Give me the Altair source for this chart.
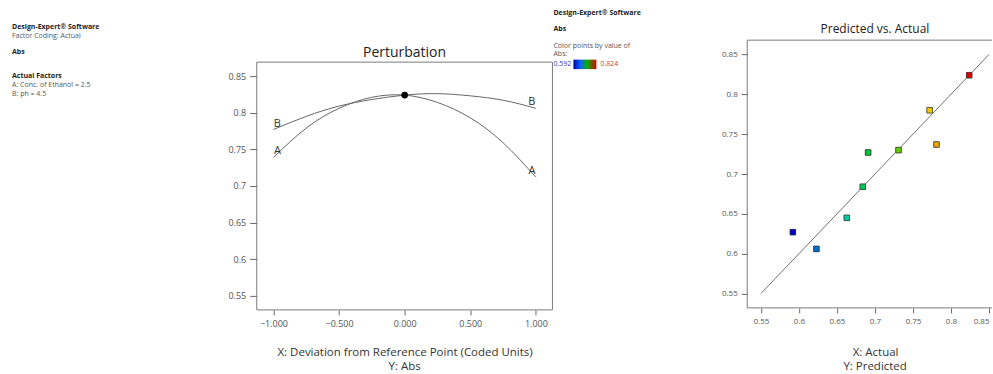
import altair as alt
import pandas as pd

# ---------------- data ----------------
coded = [-1.0, -0.75, -0.5, -0.25, 0.0, 0.25, 0.5, 0.75, 1.0]
abs_A = [0.739, 0.779, 0.806, 0.821, 0.824, 0.814, 0.793, 0.759, 0.712]
abs_B = [0.777, 0.795, 0.809, 0.818, 0.824, 0.826, 0.823, 0.817, 0.806]
ref_coded = [0.0]
ref_abs = [0.824]

actual = [0.592, 0.623, 0.663, 0.684, 0.691, 0.731, 0.772, 0.781, 0.824]
predicted = [0.627, 0.606, 0.645, 0.684, 0.727, 0.730, 0.780, 0.737, 0.824]
diag_from, diag_to = 0.55, 0.85

pert_xticks = [-1.0, -0.5, 0.0, 0.5, 1.0]
abs_ticks = [0.55, 0.6, 0.65, 0.7, 0.75, 0.8, 0.85]
color_min, color_max = 0.592, 0.824

info_left = ["Design-Expert® Software", "Factor Coding: Actual", "Abs",
             "Actual Factors", "A: Conc. of Ethanol = 2.5", "B: ph = 4.5"]
info_mid = ["Design-Expert® Software", "Abs", "Color points by value of", "Abs:"]
pert_title = "Perturbation"
pert_xtitle = "X: Deviation from Reference Point (Coded Units)"
pert_ytitle = "Y: Abs"
pva_title = "Predicted vs. Actual"
pva_xtitle = "X: Actual"
pva_ytitle = "Y: Predicted"

FONT = "Open Sans"
AXT = 11.5  # axis-title font size
one = pd.DataFrame({"k": [0]})


def txt(s, x, y, size=7.0, bold=False, color="#555555", align="left"):
    return alt.Chart(one).mark_text(
        text=s, align=align, baseline="middle", font=FONT, fontSize=size,
        fontWeight="bold" if bold else "normal", color=color,
    ).encode(x=alt.value(x), y=alt.value(y))


axis_common = dict(domain=False, grid=False, tickColor="#666666", tickWidth=1,
                   labelColor="#555555", labelFont=FONT, titleFont=FONT,
                   titleFontWeight="normal", titleColor="#333333", titleFontSize=AXT)
FRAME = "#7a7a7a"

# ---------------- left info panel ----------------
left_layout = [(12, 27, True), (12, 35.5, False), (12, 52, True),
               (12, 76, True), (12, 85, False), (12, 93.5, False)]
left = alt.layer(*[
    txt(s, x, y, bold=b, color="#222222" if b else "#555555")
    for s, (x, y, b) in zip(info_left, left_layout)
]).properties(width=257, height=310,
              view=alt.ViewBackground(fill="white", strokeWidth=0))

# ---------------- perturbation plot ----------------
df_pert = pd.DataFrame({
    "coded": coded * 2,
    "abs": abs_A + abs_B,
    "factor": ["A"] * len(coded) + ["B"] * len(coded),
})
df_ref = pd.DataFrame({"coded": ref_coded, "abs": ref_abs})

P_XDOM = [-1.127, 1.126]
P_YDOM = [0.531, 0.869]
px_scale = alt.Scale(domain=P_XDOM, nice=False, zero=False)
py_scale = alt.Scale(domain=P_YDOM, nice=False, zero=False, range=[310, 62])

pert_x = alt.X("coded:Q", scale=px_scale, axis=alt.Axis(
    values=pert_xticks, format=".3f", tickSize=5, labelPadding=5, labelFontSize=9,
    title=pert_xtitle, titlePadding=18, **axis_common))
pert_y = alt.Y("abs:Q", scale=py_scale, axis=alt.Axis(
    values=abs_ticks, format=".2~f", tickSize=7, labelPadding=4, labelFontSize=9,
    title=None, **axis_common))

curves = alt.Chart(df_pert).mark_line(
    color="#666666", strokeWidth=1, interpolate="natural"
).encode(x=pert_x, y=pert_y, detail="factor:N")

pert_frame = alt.Chart(one).mark_rect(
    fillOpacity=0, stroke=FRAME, strokeWidth=1
).encode(x=alt.datum(P_XDOM[0]), x2=alt.datum(P_XDOM[1]),
         y=alt.datum(P_YDOM[0]), y2=alt.datum(P_YDOM[1]))

lab_left = alt.Chart(df_pert).transform_filter("datum.coded == -1").mark_text(
    font=FONT, fontSize=11, color="#333333", dx=4, dy=-6, align="center", baseline="middle"
).encode(x="coded:Q", y="abs:Q", text="factor:N")
lab_right = alt.Chart(df_pert).transform_filter("datum.coded == 1").mark_text(
    font=FONT, fontSize=11, color="#333333", dx=-4, dy=-6, align="center", baseline="middle"
).encode(x="coded:Q", y="abs:Q", text="factor:N")

ref_pt = alt.Chart(df_ref).mark_circle(size=45, color="#000000", opacity=1).encode(
    x="coded:Q", y="abs:Q")

pert_ttl = alt.Chart(one).mark_text(
    text=pert_title, font=FONT, fontSize=14, color="#222222", align="center", baseline="middle"
).encode(x=alt.datum(sum(P_XDOM) / 2), y=alt.value(52.5))
pert_y_note = txt(pert_ytitle, 148, 367.5, size=AXT, color="#333333", align="center")

pert = alt.layer(pert_frame, curves, lab_left, lab_right, ref_pt, pert_ttl,
                 pert_y_note).properties(width=296, height=310)

# ---------------- middle info / colour key ----------------
mid_layout = [(1, 12.7, True), (1, 29, True), (1, 46, False), (1, 54, False)]
mid_texts = [txt(s, x, y, bold=b, color="#222222" if b else "#555555")
             for s, (x, y, b) in zip(info_mid, mid_layout)]
key_lo = txt(f"{color_min:.3f}", 1, 64.3, color="#3c3cc8")
key_hi = txt(f"{color_max:.3f}", 48, 64.3, color="#c83c3c")
grad = alt.Chart(one).mark_rect(
    fill=alt.Gradient(gradient="linear", x1=0, x2=1, y1=0, y2=0, stops=[
        alt.GradientStop(color="#0000b0", offset=0),
        alt.GradientStop(color="#1060ff", offset=0.3),
        alt.GradientStop(color="#00b000", offset=0.6),
        alt.GradientStop(color="#e00000", offset=1),
    ])
).encode(x=alt.value(21), x2=alt.value(44), y=alt.value(59.5), y2=alt.value(69))
mid = alt.layer(*mid_texts, key_lo, key_hi, grad).properties(width=195, height=310)

# ---------------- predicted vs actual ----------------
df_pva = pd.DataFrame({"actual": actual, "predicted": predicted})
df_diag = pd.DataFrame({"a": [diag_from, diag_to], "p": [diag_from, diag_to]})

AX_DOM = [0.532, 0.854]   # the right part of this panel is cut by the window edge
AY_DOM = [0.532, 0.868]
ax_scale = alt.Scale(domain=AX_DOM, nice=False, zero=False)
ay_scale = alt.Scale(domain=AY_DOM, nice=False, zero=False, range=[308, 40])

pva_x = alt.X("actual:Q", scale=ax_scale, axis=alt.Axis(
    values=abs_ticks, format=".2~f", tickSize=5, labelPadding=5, labelFontSize=8,
    labelFlush=5, title=pva_xtitle, titleX=128, titlePadding=21, **axis_common))
pva_y = alt.Y("predicted:Q", scale=ay_scale, axis=alt.Axis(
    values=abs_ticks, format=".2~f", tickSize=6, labelPadding=4, labelFontSize=8,
    title=None, **axis_common))

frame_h = alt.Chart(pd.DataFrame({"yy": AY_DOM})).mark_rule(
    color=FRAME, strokeWidth=1
).encode(x=alt.datum(AX_DOM[0]), x2=alt.datum(AX_DOM[1]), y="yy:Q")
frame_v = alt.Chart(one).mark_rule(color=FRAME, strokeWidth=1).encode(
    x=alt.datum(AX_DOM[0]), y=alt.datum(AY_DOM[0]), y2=alt.datum(AY_DOM[1]))

diag_line = alt.Chart(df_diag).mark_line(color="#707070", strokeWidth=1).encode(
    x="a:Q", y="p:Q")

pts = alt.Chart(df_pva).mark_square(size=30, stroke="#333333", strokeWidth=0.6, opacity=1).encode(
    x=pva_x, y=pva_y,
    color=alt.Color("actual:Q", legend=None, scale=alt.Scale(
        domain=[0.592, 0.65, 0.708, 0.766, 0.824],
        range=["#0000c8", "#00d0d0", "#00c000", "#f0e000", "#e00000"],
        interpolate="rgb")),
)

pva_ttl = alt.Chart(one).mark_text(
    text=pva_title, font=FONT, fontSize=12, color="#222222", align="center", baseline="middle"
).encode(x=alt.datum(0.7), y=alt.value(29))
pva_y_note = txt(pva_ytitle, 128, 367.5, size=AXT, color="#333333", align="center")

pva = alt.layer(pts, frame_h, frame_v, diag_line, pts, pva_ttl, pva_y_note).properties(
    width=245, height=308)

chart = alt.hconcat(left, pert, mid, pva, spacing=0, bounds="flush").properties(
    padding=0, background="white"
).configure_view(strokeWidth=0)

chart.save("out.html", embed_options={"renderer": "svg", "actions": False})
